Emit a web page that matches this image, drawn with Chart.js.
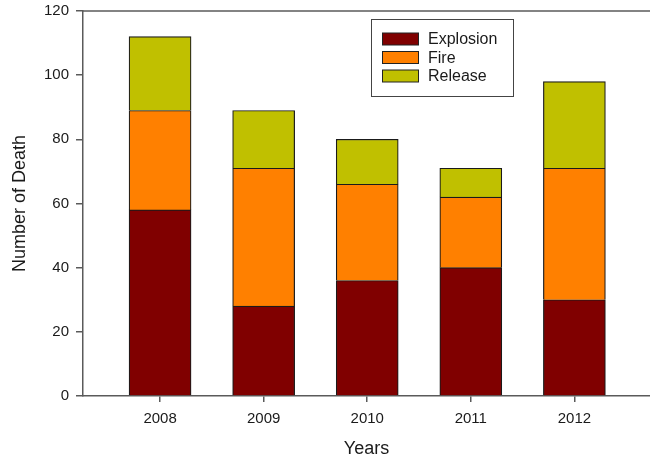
<!DOCTYPE html>
<html>
<head>
<meta charset="utf-8">
<script src="https://cdn.jsdelivr.net/npm/chart.js@4/dist/chart.umd.min.js"></script>
<style>
    html, body { margin: 0; padding: 0; background: #fff; overflow: hidden; }
    #wrap { width: 650px; height: 458px; }
</style>
</head>
<body>
<div id="wrap"><canvas id="myChart" width="650" height="458"></canvas></div>
<script>
var years = [2008, 2009, 2010, 2011, 2012];
var explosion = [58, 28, 36, 40, 30];
var fire = [31, 43, 30, 22, 41];
var release = [23, 18, 14, 9, 27];
var yTicks = [0, 20, 40, 60, 80, 100, 120];

function toPoints(values) {
    return values.map(function (v, i) {
        return { x: years[i], y: v };
    });
}

var axisColor = '#5a5a5a';
var textColor = '#1a1a1a';
var fontFamily = '"Liberation Sans", Arial, sans-serif';

// top frame line and the boxed legend inside the plot
var framePlugin = {
    id: 'frame',
    afterDraw: function (chart) {
        var ctx = chart.ctx;
        var area = chart.chartArea;
        ctx.save();
        ctx.strokeStyle = axisColor;
        ctx.lineWidth = 1.5;
        ctx.beginPath();
        ctx.moveTo(area.left, area.top);
        ctx.lineTo(chart.width, area.top);
        ctx.stroke();

        // legend
        var bx = 371.5, by = 19.5, bw = 142, bh = 77;
        ctx.fillStyle = '#fff';
        ctx.fillRect(bx, by, bw, bh);
        ctx.strokeStyle = '#444';
        ctx.lineWidth = 1;
        ctx.strokeRect(bx, by, bw, bh);
        ctx.font = '16px ' + fontFamily;
        ctx.textBaseline = 'middle';
        chart.data.datasets.forEach(function (ds, i) {
            var y = 39 + i * 18.5;
            ctx.fillStyle = ds.backgroundColor;
            ctx.fillRect(382.5, y - 6, 36, 12);
            ctx.strokeStyle = '#222';
            ctx.strokeRect(382.5, y - 6, 36, 12);
            ctx.fillStyle = textColor;
            ctx.fillText(ds.label, 428, y + 1);
        });
        ctx.restore();
    }
};

var ctx = document.getElementById('myChart');
var chart = new Chart(ctx.getContext('2d'), {
    type: 'bar',
    data: {
        datasets: [
            {
                label: 'Explosion',
                data: toPoints(explosion),
                backgroundColor: '#800000',
                borderColor: '#1a1a1a',
                borderWidth: 1.2,
                barThickness: 62
            },
            {
                label: 'Fire',
                data: toPoints(fire),
                backgroundColor: '#ff8000',
                borderColor: '#1a1a1a',
                borderWidth: 1.2,
                barThickness: 62
            },
            {
                label: 'Release',
                data: toPoints(release),
                backgroundColor: '#c0c000',
                borderColor: '#1a1a1a',
                borderWidth: 1.2,
                barThickness: 62
            }
        ]
    },
    options: {
        responsive: false,
        animation: false,
        layout: { padding: { top: 11, right: 0, left: 0, bottom: 0 } },
        plugins: {
            legend: { display: false },
            tooltip: { enabled: false }
        },
        scales: {
            x: {
                type: 'linear',
                stacked: true,
                offset: false,
                min: 2007.256,
                max: 2012.73,
                afterBuildTicks: function (scale) {
                    scale.ticks = years.map(function (y) { return { value: y }; });
                },
                afterFit: function (scale) { scale.height = 62; },
                border: { color: axisColor, width: 1.5 },
                grid: { offset: false, drawOnChartArea: false, drawTicks: true, tickLength: 6, color: axisColor, lineWidth: 1.5 },
                ticks: {
                    color: textColor,
                    padding: 8,
                    maxRotation: 0,
                    font: { family: fontFamily, size: 15 },
                    callback: function (v) { return String(v); }
                },
                title: {
                    display: true,
                    text: 'Years',
                    color: textColor,
                    padding: { top: 4, bottom: 0 },
                    font: { family: fontFamily, size: 18, lineHeight: 1.0 }
                }
            },
            y: {
                stacked: true,
                min: 0,
                max: 120,
                afterBuildTicks: function (scale) {
                    scale.ticks = yTicks.map(function (v) { return { value: v }; });
                },
                afterFit: function (scale) {
                    scale.width = 83;
                    scale.paddingTop = 0;
                    scale.paddingBottom = 0;
                },
                border: { color: axisColor, width: 1.5 },
                grid: { drawOnChartArea: false, drawTicks: true, tickLength: 7, color: axisColor, lineWidth: 1.5 },
                ticks: {
                    color: textColor,
                    padding: 7,
                    font: { family: fontFamily, size: 15 }
                },
                title: {
                    display: true,
                    text: 'Number of Death',
                    color: textColor,
                    padding: { top: 9, bottom: 0 },
                    font: { family: fontFamily, size: 18 }
                }
            }
        }
    },
    plugins: [framePlugin]
});
</script>
</body>
</html>
